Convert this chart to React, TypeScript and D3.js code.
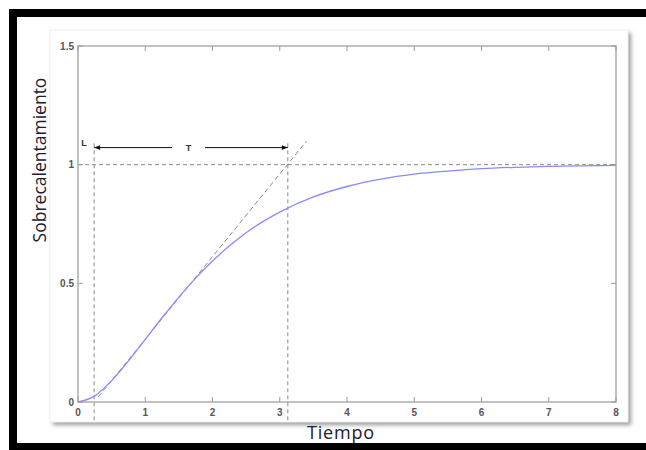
import React from 'react';
import * as d3 from 'd3';

// step response
const timeValues = [0, 0.25, 0.5, 0.75, 1, 1.25, 1.5, 1.75, 2, 2.25, 2.5, 2.75, 3, 3.5, 4, 4.5, 5, 5.5, 6, 6.5, 7, 7.5, 8];
const responseValues = [0, 0.026, 0.09, 0.173, 0.264, 0.355, 0.442, 0.522, 0.594, 0.657, 0.713, 0.76, 0.8, 0.864, 0.908, 0.939, 0.96, 0.973, 0.983, 0.989, 0.993, 0.995, 0.997];

// tangent line through the inflection point
const tangentTimes = [0.3, 3.4];
const tangentValues = [0.021, 1.1];

const delayL = 0.24;
const delayEnd = 3.12;
const finalValue = 1;

const xTicks = [0, 1, 2, 3, 4, 5, 6, 7, 8];
const yTicks = [0, 0.5, 1, 1.5];
const yTickLabels = ['0', '0.5', '1', '1.5'];

const W = 646;
const H = 450;
const margin = { left: 78, right: 30, top: 46, bottom: 48 };

export default function App() {
  const x = d3.scaleLinear().domain([0, 8]).range([margin.left, W - margin.right]);
  const y = d3.scaleLinear().domain([0, 1.5]).range([H - margin.bottom, margin.top]);

  const curve = d3
    .line<number>()
    .x((_, i) => x(timeValues[i]))
    .y((d) => y(d))
    .curve(d3.curveMonotoneX);

  const tangent = d3
    .line<number>()
    .x((_, i) => x(tangentTimes[i]))
    .y((d) => y(d));

  const axisColor = '#9a9a9a';
  const dashColor = '#8a8a8a';
  const tickFont = { fontFamily: 'Liberation Sans, Arial, sans-serif', fontSize: 10, fontWeight: 700, fill: '#555' };
  const arrowY = y(1.072);
  const x0 = x(0);
  const x1 = x(8);
  const yTop = y(1.5);
  const yBot = y(0);

  return (
    <svg width={W} height={H} style={{ position: 'absolute', left: 0, top: 0, display: 'block' }}>
      <defs>
        <filter id="shadow" x="-5%" y="-5%" width="115%" height="115%">
          <feGaussianBlur stdDeviation="2" />
        </filter>
        <marker id="arrowEnd" viewBox="0 0 10 10" refX="10" refY="5" markerWidth="10" markerHeight="6" orient="auto">
          <path d="M0,1 L10,5 L0,9 Z" fill="#111" />
        </marker>
        <marker id="arrowStart" viewBox="0 0 10 10" refX="0" refY="5" markerWidth="10" markerHeight="6" orient="auto">
          <path d="M10,1 L0,5 L10,9 Z" fill="#111" />
        </marker>
      </defs>

      {/* outer black frame */}
      <rect x={0} y={0} width={W} height={H} fill="#fff" />
      <rect x={9} y={9} width={W} height={H} fill="#000" />
      <rect x={17} y={17} width={W} height={426} fill="#fff" />

      {/* figure panel with drop shadow */}
      <rect x={53} y={33} width={578} height={392} fill="#9a9a9a" filter="url(#shadow)" />
      <rect x={50} y={30} width={578} height={392} fill="#fff" stroke="#f0f0f0" />

      {/* dashed guides */}
      <line x1={x0} x2={x1} y1={y(finalValue)} y2={y(finalValue)} stroke={dashColor} strokeDasharray="4,3" />
      <line x1={x(delayL)} x2={x(delayL)} y1={y(1.09)} y2={y(-0.09)} stroke={dashColor} strokeDasharray="4,3" />
      <line x1={x(delayEnd)} x2={x(delayEnd)} y1={y(1.09)} y2={y(-0.09)} stroke={dashColor} strokeDasharray="4,3" />
      <path d={tangent(tangentValues) ?? ''} fill="none" stroke={dashColor} strokeDasharray="5,3" />

      {/* response */}
      <path d={curve(responseValues) ?? ''} fill="none" stroke="#8a8aff" strokeWidth={1.3} />

      {/* L / T annotation */}
      <line x1={x(delayL)} x2={172} y1={arrowY} y2={arrowY} stroke="#111" strokeWidth={1} markerStart="url(#arrowStart)" />
      <line x1={205} x2={x(delayEnd)} y1={arrowY} y2={arrowY} stroke="#111" strokeWidth={1} markerEnd="url(#arrowEnd)" />
      <text x={(172 + 205) / 2} y={arrowY + 3.5} textAnchor="middle" {...tickFont} fontSize={9} fill="#333">T</text>
      <text x={x(delayL) - 13} y={arrowY - 1.5} {...tickFont} fontSize={9} fill="#333">L</text>

      {/* axes box */}
      <rect x={x0} y={yTop} width={x1 - x0} height={yBot - yTop} fill="none" stroke={axisColor} strokeWidth={1.2} />
      {xTicks.map((t) => (
        <g key={'x' + t}>
          <line x1={x(t)} x2={x(t)} y1={yBot} y2={yBot - 5} stroke={axisColor} />
          <line x1={x(t)} x2={x(t)} y1={yTop} y2={yTop + 5} stroke={axisColor} />
          <text x={x(t)} y={yBot + 14} textAnchor="middle" {...tickFont}>{t}</text>
        </g>
      ))}
      {yTicks.map((v, i) => (
        <g key={'y' + v}>
          <line x1={x0} x2={x0 + 5} y1={y(v)} y2={y(v)} stroke={axisColor} />
          <line x1={x1} x2={x1 - 5} y1={y(v)} y2={y(v)} stroke={axisColor} />
          <text x={x0 - 4} y={y(v) + 3.5} textAnchor="end" {...tickFont}>{yTickLabels[i]}</text>
        </g>
      ))}

      {/* axis titles */}
      <text x={341} y={439} textAnchor="middle" fontFamily="Open Sans, sans-serif" fontSize={18} fill="#1a2030" letterSpacing={0.8}>Tiempo</text>
      <text transform="translate(46,160) rotate(-90)" textAnchor="middle" fontFamily="Open Sans, sans-serif" fontSize={17.5} fill="#1a2030">Sobrecalentamiento</text>
    </svg>
  );
}
